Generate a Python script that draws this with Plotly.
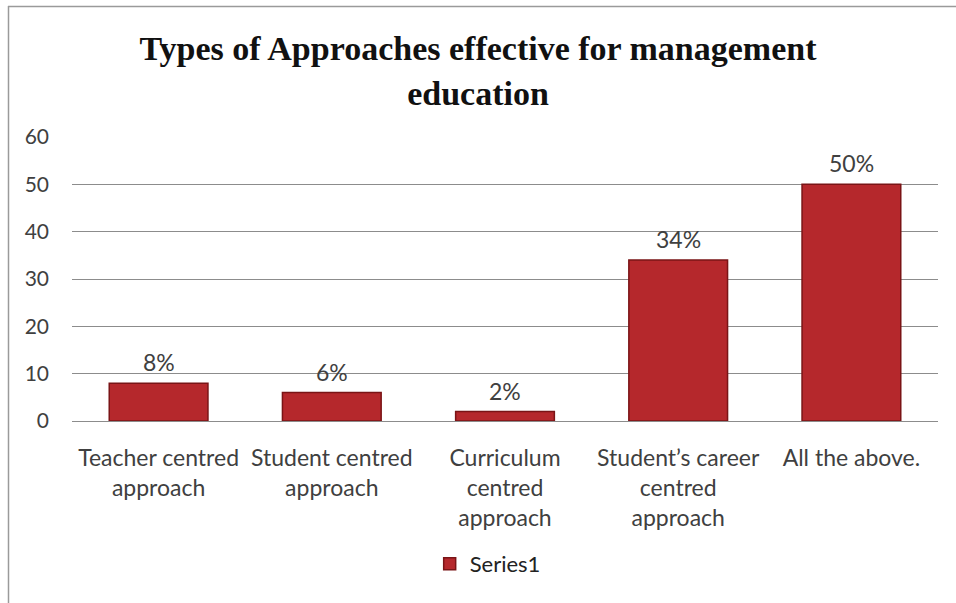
import plotly.graph_objects as go

categories = [
    "Teacher centred<br>approach",
    "Student centred<br>approach",
    "Curriculum<br>centred<br>approach",
    "Student\u2019s career<br>centred<br>approach",
    "All the above.",
]
values = [8, 6, 2, 34, 50]
value_labels = ["8%", "6%", "2%", "34%", "50%"]
y_ticks = [0, 10, 20, 30, 40, 50, 60]

W, H = 956, 603
L, R, T, B = 72, 18, 137, 182
FONT = "Lato, Open Sans, sans-serif"

fig = go.Figure()
fig.add_trace(go.Bar(
    x=categories,
    y=values,
    name="Series1",
    marker=dict(color="#B5282C", line=dict(color="#7A1416", width=1.5)),
    showlegend=True,
))

annotations = []
for c, v, lab in zip(categories, values, value_labels):
    annotations.append(dict(
        x=c, y=v, xref="x", yref="y", text=lab, showarrow=False,
        yanchor="middle", yshift=21,
        font=dict(family=FONT, size=23, color="#404040"),
    ))

def px_x(x):
    return (x - L) / (W - L - R)

def px_y(y):
    return (H - B - y) / (H - T - B)

fig.update_layout(
    width=W, height=H,
    margin=dict(l=L, r=R, t=T, b=B, autoexpand=False),
    paper_bgcolor="white",
    plot_bgcolor="white",
    bargap=0.43,
    title=dict(
        text="<b>Types of Approaches effective for management<br>education</b>",
        font=dict(family="Liberation Serif, Times New Roman, serif", size=34, color="#111111"),
        x=0.5, xanchor="center", y=0.90, yanchor="top",
    ),
    xaxis=dict(
        tickfont=dict(family=FONT, size=23, color="#404040"),
        showgrid=False, showline=False, ticks="",
        tickangle=0, ticklabelstandoff=21,
    ),
    yaxis=dict(
        range=[0, 60],
        tickvals=y_ticks,
        tickfont=dict(family=FONT, size=21, color="#404040"),
        showgrid=True, gridcolor="#8c8c8c", gridwidth=1,
        zeroline=True, zerolinecolor="#8c8c8c", zerolinewidth=1,
        showline=False, ticks="", ticklabelstandoff=22,
    ),
    legend=dict(
        orientation="h", x=0.48, xanchor="center", y=-0.503, yanchor="middle",
        font=dict(family=FONT, size=22, color="#222222"),
        itemwidth=30,
    ),
    annotations=annotations,
    shapes=[
        dict(type="line", xref="paper", yref="paper",
             x0=px_x(8), x1=px_x(956), y0=px_y(6.5), y1=px_y(6.5),
             line=dict(color="#9a9a9a", width=1.5)),
        dict(type="line", xref="paper", yref="paper",
             x0=px_x(8.5), x1=px_x(8.5), y0=px_y(6), y1=px_y(603),
             line=dict(color="#9a9a9a", width=1.5)),
    ],
)

fig.write_html(
    "out.html",
    config={"displayModeBar": False},
    post_script="document.body.style.margin='0';document.body.style.overflow='hidden';",
)
